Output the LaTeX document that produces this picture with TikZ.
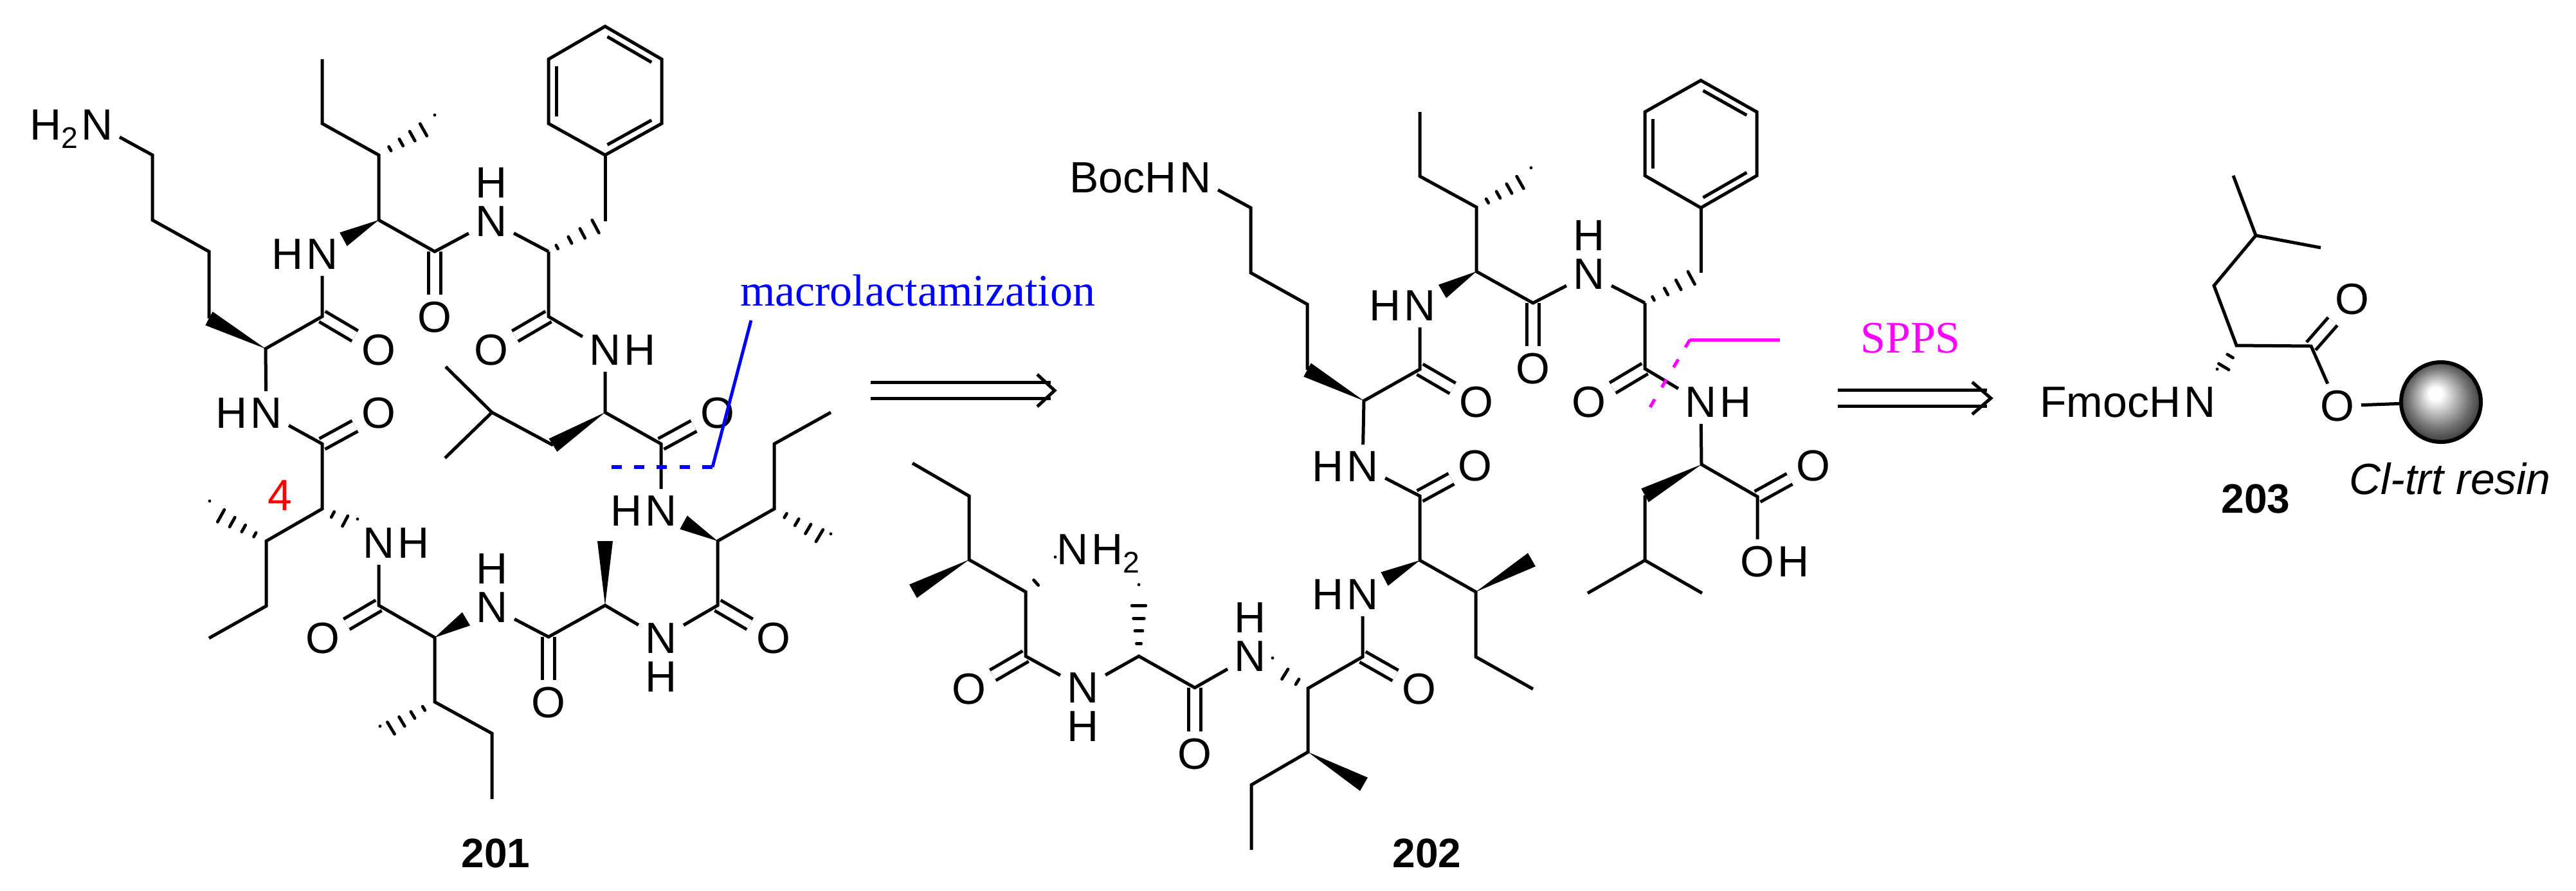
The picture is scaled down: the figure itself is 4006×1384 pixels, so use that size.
\documentclass[tikz,border=0pt]{standalone}
\usepackage{fontspec}
\setmainfont{Liberation Sans}
\newfontfamily\serifface{Liberation Serif}
\usetikzlibrary{positioning, calc}
\definecolor{cutpink}{RGB}{255,0,255}
\definecolor{cutblue}{RGB}{0,0,255}
\pgfdeclareradialshading{beadball}{\pgfpoint{-4bp}{6bp}}{color(0bp)=(white); color(4bp)=(white); color(19bp)=(black!55); color(31bp)=(black!92)}

\newcommand{\subtwo}{\smash{\raisebox{-3.3pt}{\fontsize{11.6}{12}\selectfont 2}}}
% wedge: narrow at #1, wide at #2
\newcommand{\wedgebond}[2]{\fill ($(#2)!3pt!90:(#1)$) -- (#1) -- ($(#2)!3pt!-90:(#1)$) -- cycle;}
% hashed wedge: narrow at #2, wide at #3, #1 = where the bars sit
\newcommand{\hashbond}[3][0.2,0.4,0.6,0.8,1]{
  \foreach \f [evaluate=\f as \w using \f*3+0.3] in {#1}
    \draw[line cap=round,line width=1.2pt] ($(#2)!\f!(#3)!\w pt!90:(#3)$) -- ($(#2)!\f!(#3)!\w pt!-90:(#3)$);
}

\begin{document}
\begin{tikzpicture}[x=0.25pt,y=-0.25pt,line width=1.25pt,
  atom/.style={inner sep=2pt,font=\fontsize{17}{20}\selectfont},
  dbl/.style={double,double distance=3.4pt},
  num/.style={inner sep=0pt,font=\fontsize{16}{20}\selectfont\bfseries},
  shaft/.style={double,double distance=5pt,shorten >=1.5pt},
  note/.style={inner sep=0pt,font=\fontsize{17.5}{20}\selectfont\serifface}]
\useasboundingbox (0,0) rectangle (4006,1384);

% 201
\node[atom] (aN0) at (151,194) {N};
\node[atom,left=-4pt of aN0] (aH0) {H\subtwo};
\coordinate (aC1) at (237,241);
\coordinate (aC2) at (237,342);
\coordinate (aC3) at (325,391);
\coordinate (aC4) at (325,495);
\coordinate (aC5) at (413,542);
\coordinate (aC6) at (501,492);
\node[atom] (aO6) at (589,544) {O};
\node[atom] (aN7) at (501,395) {N};
\node[atom,left=-4pt of aN7] (aH7) {H};
\coordinate (aW7) at (534,372);
\coordinate (aC8) at (589,342);
\coordinate (aC9) at (589,241);
\coordinate (aC10) at (501,192);
\coordinate (aC11) at (501,92);
\coordinate (aM9) at (676,192);
\coordinate (aC12) at (676,391);
\node[atom] (aO12) at (676,493) {O};
\node[atom] (aN13) at (764,344) {N};
\node[atom,above=-2pt of aN13] (aH13) {H};
\coordinate (aC14) at (853,391);
\coordinate (aC15) at (941,344);
\coordinate (aR1) at (941,241);
\coordinate (aR2) at (853,192);
\coordinate (aR3) at (853,92);
\coordinate (aR4) at (941,41);
\coordinate (aR5) at (1029,92);
\coordinate (aR6) at (1029,192);
\coordinate (aRc) at (941,141);
\coordinate (aC17) at (853,492);
\node[atom] (aO17) at (764,544) {O};
\node[atom] (aN18) at (941,544) {N};
\node[atom,right=-4pt of aN18] (aH18) {H};
\coordinate (aC19) at (941,641);
\coordinate (aC20) at (860,692);
\coordinate (aC21) at (765,641);
\coordinate (aC22) at (693,570);
\coordinate (aC23) at (692,712);
\coordinate (aC24) at (1028,690);
\node[atom] (aO24) at (1116,642) {O};
\node[atom] (aN25) at (1028,794) {N};
\node[atom,left=-4pt of aN25] (aH25) {H};
\coordinate (aW25) at (1063,812);
\coordinate (aC26) at (1116,841);
\coordinate (aC27) at (1204,791);
\coordinate (aC28) at (1204,690);
\coordinate (aC29) at (1292,641);
\coordinate (aM27) at (1292,843);
\coordinate (aC30) at (1116,941);
\node[atom] (aO30) at (1203,992) {O};
\node[atom] (aN31) at (1028,992) {N};
\node[atom,below=-2pt of aN31] (aH31) {H};
\coordinate (aC32) at (941,941);
\coordinate (aM32) at (941,841);
\coordinate (aC33) at (853,990);
\node[atom] (aO33) at (853,1092) {O};
\node[atom] (aN34) at (765,944) {N};
\node[atom,above=-2pt of aN34] (aH34) {H};
\coordinate (aC35) at (676,991);
\coordinate (aW35) at (725,962);
\coordinate (aC36) at (676,1091);
\coordinate (aM36) at (591,1142);
\coordinate (aC37) at (765,1140);
\coordinate (aC38) at (765,1242);
\coordinate (aC39) at (589,941);
\node[atom] (aO39) at (502,992) {O};
\node[atom] (aN40) at (589,844) {N};
\node[atom,right=-4pt of aN40] (aH40) {H};
\coordinate (aC41) at (501,791);
\coordinate (aW41) at (556,820);
\coordinate (aC42) at (414,841);
\coordinate (aM42) at (326,792);
\coordinate (aC43) at (414,942);
\coordinate (aC44) at (325,992);
\coordinate (aC45) at (501,690);
\node[atom] (aO45) at (589,642) {O};
\node[atom] (aN46) at (414,642) {N};
\node[atom,left=-4pt of aN46] (aH46) {H};

\draw[dbl] (aC6) -- (aO6);
\draw[dbl] (aC12) -- (aO12);
\draw[dbl] (aC17) -- (aO17);
\draw[dbl] (aC24) -- (aO24);
\draw[dbl] (aC30) -- (aO30);
\draw[dbl] (aC33) -- (aO33);
\draw[dbl] (aC39) -- (aO39);
\draw[dbl] (aC45) -- (aO45);

\draw (aN0) -- (aC1) -- (aC2) -- (aC3) -- (aC4);
\wedgebond{aC5}{aC4}
\draw (aN46) -- (aC5) -- (aC6) -- (aN7);
\wedgebond{aC8}{aW7}
\draw (aC11) -- (aC10) -- (aC9) -- (aC8) -- (aC12) -- (aN13) -- (aC14);
\hashbond{aC9}{aM9}
\hashbond[0.15,0.38,0.6,0.83]{aC14}{aC15}
\draw (aC15) -- (aR1);
\draw (aR1) -- (aR2) -- (aR3) -- (aR4) -- (aR5) -- (aR6) -- cycle;
\draw[shorten <=1pt,shorten >=1pt] ($(aR2)!0.14!(aRc)$) -- ($(aR3)!0.14!(aRc)$);
\draw[shorten <=1pt,shorten >=1pt] ($(aR4)!0.14!(aRc)$) -- ($(aR5)!0.14!(aRc)$);
\draw[shorten <=1pt,shorten >=1pt] ($(aR6)!0.14!(aRc)$) -- ($(aR1)!0.14!(aRc)$);
\draw (aC14) -- (aC17) -- (aN18) -- (aC19) -- (aC24) -- (aN25);
\wedgebond{aC19}{aC20}
\draw (aC20) -- (aC21) -- (aC22);
\draw (aC21) -- (aC23);
\wedgebond{aC26}{aW25}
\draw (aC29) -- (aC28) -- (aC27) -- (aC26) -- (aC30) -- (aN31) -- (aC32) -- (aC33) -- (aN34);
\hashbond{aC27}{aM27}
\wedgebond{aC32}{aM32}
\wedgebond{aC35}{aW35}
\draw (aC38) -- (aC37) -- (aC36) -- (aC35) -- (aC39) -- (aN40);
\hashbond{aC36}{aM36}
\hashbond[0.3,0.65,1]{aC41}{aW41}
\draw (aC44) -- (aC43) -- (aC42) -- (aC41) -- (aC45) -- (aN46);
\hashbond{aC42}{aM42}

% 202
\node[atom] (bN0) at (1859,276) {N};
\node[atom,left=-4pt of bN0] (bH0) {BocH};
\coordinate (bC1) at (1945,323);
\coordinate (bC2) at (1945,424);
\coordinate (bC3) at (2033,473);
\coordinate (bC4) at (2033,575);
\coordinate (bC5) at (2121,623);
\coordinate (bC6) at (2208,574);
\node[atom] (bO6) at (2296,625) {O};
\node[atom] (bN7) at (2208,475) {N};
\node[atom,left=-4pt of bN7] (bH7) {H};
\coordinate (bW7) at (2243,453);
\coordinate (bC8) at (2296,422);
\coordinate (bC9) at (2296,322);
\coordinate (bC10) at (2208,274);
\coordinate (bC11) at (2208,174);
\coordinate (bM9) at (2381,274);
\coordinate (bC12) at (2384,471);
\node[atom] (bO12) at (2384,573) {O};
\node[atom] (bN13) at (2471,426) {N};
\node[atom,above=-2pt of bN13] (bH13) {H};
\coordinate (bC14) at (2558,471);
\coordinate (bC15) at (2645,424);
\coordinate (bR1) at (2645,323);
\coordinate (bR2) at (2558,273);
\coordinate (bR3) at (2558,174);
\coordinate (bR4) at (2645,125);
\coordinate (bR5) at (2732,174);
\coordinate (bR6) at (2732,273);
\coordinate (bRc) at (2645,224);
\coordinate (bC17) at (2558,573);
\node[atom] (bO17) at (2471,625) {O};
\node[atom] (bN18) at (2645,625) {N};
\node[atom,right=-4pt of bN18] (bH18) {H};
\coordinate (bC19) at (2646,722);
\coordinate (bC20) at (2558,770);
\coordinate (bC21) at (2558,871);
\coordinate (bC22) at (2469,922);
\coordinate (bC23) at (2647,922);
\coordinate (bC24) at (2733,772);
\node[atom] (bO24) at (2820,724) {O};
\node[atom] (bO25) at (2733,873) {O};
\node[atom,right=-4pt of bO25] (bH25) {H};
\node[atom] (bN26) at (2119,725) {N};
\node[atom,left=-4pt of bN26] (bH26) {H};
\coordinate (bC27) at (2208,771);
\node[atom] (bO27) at (2294,724) {O};
\coordinate (bC28) at (2208,871);
\coordinate (bW28) at (2153,900);
\node[atom] (bN29) at (2119,924) {N};
\node[atom,left=-4pt of bN29] (bH29) {H};
\coordinate (bC30) at (2295,920);
\coordinate (bM30) at (2382,870);
\coordinate (bC31) at (2295,1021);
\coordinate (bC32) at (2384,1071);
\coordinate (bC33) at (2119,1021);
\node[atom] (bO33) at (2207,1071) {O};
\coordinate (bC34) at (2034,1070);
\coordinate (bW34) at (1979,1036);
\node[atom] (bN35) at (1944,1020) {N};
\node[atom,above=-2pt of bN35] (bH35) {H};
\coordinate (bC36) at (2034,1169);
\coordinate (bM36) at (2121,1219);
\coordinate (bC37) at (1946,1220);
\coordinate (bC38) at (1946,1321);
\coordinate (bC39) at (1858,1069);
\node[atom] (bO39) at (1858,1172) {O};
\coordinate (bC40) at (1771,1020);
\coordinate (bM40) at (1771,922);
\node[atom] (bN41) at (1684,1069) {N};
\node[atom,below=-2pt of bN41] (bH41) {H};
\coordinate (bC42) at (1595,1020);
\node[atom] (bO42) at (1507,1071) {O};
\coordinate (bC43) at (1595,920);
\coordinate (bW43) at (1641,879);
\node[atom] (bN44) at (1668,854) {N};
\node[atom,right=-4pt of bN44] (bH44) {H\subtwo};
\coordinate (bC45) at (1507,870);
\coordinate (bM45) at (1420,919);
\coordinate (bC46) at (1507,771);
\coordinate (bC47) at (1419,720);

\draw[dbl] (bC6) -- (bO6);
\draw[dbl] (bC12) -- (bO12);
\draw[dbl] (bC17) -- (bO17);
\draw[dbl] (bC24) -- (bO24);
\draw[dbl] (bC27) -- (bO27);
\draw[dbl] (bC33) -- (bO33);
\draw[dbl] (bC39) -- (bO39);
\draw[dbl] (bC42) -- (bO42);

\draw (bN0) -- (bC1) -- (bC2) -- (bC3) -- (bC4);
\wedgebond{bC5}{bC4}
\draw (bN26) -- (bC5) -- (bC6) -- (bN7);
\wedgebond{bC8}{bW7}
\draw (bC11) -- (bC10) -- (bC9) -- (bC8) -- (bC12) -- (bN13) -- (bC14);
\hashbond{bC9}{bM9}
\hashbond[0.15,0.38,0.6,0.83]{bC14}{bC15}
\draw (bC15) -- (bR1);
\draw (bR1) -- (bR2) -- (bR3) -- (bR4) -- (bR5) -- (bR6) -- cycle;
\draw[shorten <=1pt,shorten >=1pt] ($(bR2)!0.14!(bRc)$) -- ($(bR3)!0.14!(bRc)$);
\draw[shorten <=1pt,shorten >=1pt] ($(bR4)!0.14!(bRc)$) -- ($(bR5)!0.14!(bRc)$);
\draw[shorten <=1pt,shorten >=1pt] ($(bR6)!0.14!(bRc)$) -- ($(bR1)!0.14!(bRc)$);
\draw (bC14) -- (bC17) -- (bN18) -- (bC19) -- (bC24) -- (bO25);
\wedgebond{bC19}{bC20}
\draw (bC20) -- (bC21) -- (bC22);
\draw (bC21) -- (bC23);
\draw (bN26) -- (bC27) -- (bC28) -- (bC30) -- (bC31) -- (bC32);
\wedgebond{bC28}{bW28}
\wedgebond{bC30}{bM30}
\draw (bN29) -- (bC33) -- (bC34) -- (bC36) -- (bC37) -- (bC38);
\hashbond[0.3,0.65,1]{bC34}{bW34}
\wedgebond{bC36}{bM36}
\draw (bN35) -- (bC39) -- (bC40) -- (bN41) -- (bC42) -- (bC43) -- (bC45) -- (bC46) -- (bC47);
\hashbond{bC40}{bM40}
\hashbond[0.35,1]{bC43}{bW43}
\wedgebond{bC45}{bM45}

% 203
\coordinate (cC0) at (3473,273);
\coordinate (cC1) at (3508,366);
\coordinate (cC2) at (3609,385);
\coordinate (cC3) at (3443,444);
\coordinate (cC4) at (3478,537);
\coordinate (cC5) at (3594,538);
\node[atom] (cO5) at (3658,465) {O};
\node[atom] (cO6) at (3635,631) {O};
\node[atom] (cN7) at (3421,625) {N};
\node[atom,left=-4pt of cN7] (cH7) {FmocH};
\coordinate (cW7) at (3448,587);
\node[circle,draw,line width=1.5pt,minimum size=31pt,inner sep=0pt,shade,shading=beadball] (cBead) at (3796,625) {};
\draw[dbl] (cC5) -- (cO5);
\draw (cC0) -- (cC1) -- (cC3) -- (cC4) -- (cC5) -- (cO6) -- (cBead);
\draw (cC1) -- (cC2);
\hashbond[0.33,0.66,1]{cC4}{cW7}

% labels
\node[num] (aName) at (771,1326) {201};
\node[num] (bName) at (2219,1326) {202};
\node[num] (cName) at (3508,775) {203};
\node[atom,inner sep=0pt,text=red] (aFour) at (435,770) {4};
\node[atom,inner sep=0pt] (cResin) at (3810,744) {\itshape Cl-trt resin};

% cut marks
\node[note,text=cutblue] (aCut) at (1427,452) {macrolactamization};
\coordinate (aD1) at (951,726);
\coordinate (aD2) at (1108,726);
\coordinate (aD3) at (1168,498);
\draw[cutblue,line width=1.5pt,dash pattern=on 4pt off 4.8pt] (aD1) -- (aD2);
\draw[cutblue] (aD2) -- (aD3);
\node[note,text=cutpink] (bCut) at (2971,526) {SPPS};
\coordinate (bD1) at (2566,633);
\coordinate (bD2) at (2628,528);
\coordinate (bD3) at (2768,528);
\draw[cutpink,dash pattern=on 3.6pt off 5.4pt] (bD1) -- (bD2);
\draw[cutpink] (bD2) -- (bD3);

% arrows
\coordinate (aA1) at (1354,607);
\coordinate (aA2) at (1640,607);
\coordinate (aA3) at (1613,582);
\coordinate (aA4) at (1613,632);
\draw[shaft] (aA1) -- (aA2);
\draw (aA3) -- (aA2) -- (aA4);
\coordinate (bA1) at (2858,619);
\coordinate (bA2) at (3096,619);
\coordinate (bA3) at (3067,594);
\coordinate (bA4) at (3067,644);
\draw[shaft] (bA1) -- (bA2);
\draw (bA3) -- (bA2) -- (bA4);
\end{tikzpicture}
\end{document}
